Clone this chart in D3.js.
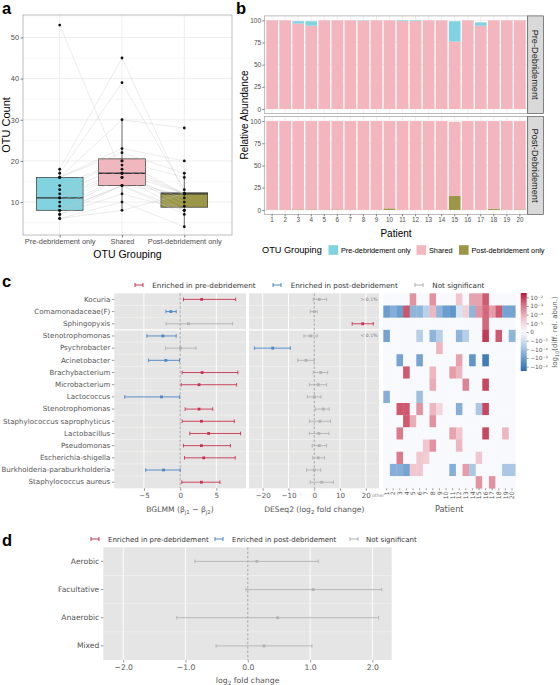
<!DOCTYPE html>
<html><head><meta charset="utf-8">
<script src="https://cdn.jsdelivr.net/npm/d3@7"></script>
<style>body{margin:0;background:#fff}svg{display:block}</style>
</head><body><svg id="c" width="560" height="685"></svg>
<script>
// ================= DATA =================
// Panel a: OTU counts per patient (patient order)
const otuGroups = ["Pre-debridement only", "Shared", "Post-debridement only"];
const otuPre    = [53,18,17,16,16,16,14,13,12,11,11,10,9,8,8,8,7,7,6,6];
const otuShared = [17,45,39,30,23,22,20,20,19,18,17,17,16,16,14,14,14,12,10,8];
const otuPost   = [12,12,13,28,20,17,16,12,12,12,9,10,11,8,12,8,7,8,4,12];
const otuTicks  = [10,20,30,40,50];

// Panel b: relative abundance (%)
const patients = ["1","2","3","4","5","6","7","8","9","10","11","12","13","14","15","16","17","18","19","20"];
const preShared  = [100,100,96.4,94,100,100,100,99.6,100,100,99.2,99.2,100,100,75.9,100,93.9,100,100,100];
const preOnly    = [0,0,2.6,5,0,0,0,0.4,0,0,0.8,0.8,0,0,23.1,0,3.8,0,0,0];
const postOnly   = [0.3,0,0.6,0.6,0,0.6,0,0,0,1.8,0,0,0,0,15.8,0,0,1.5,0,0.6];
const postShared = [99.7,100,99.4,99.4,100,99.4,100,100,100,98.2,100,100,100,100,83.2,100,100,98.5,100,99.4];
const abunTicks  = [0,25,50,75,100];

// Panel c
const taxa = ["Kocuria","Comamonadaceae(F)","Sphingopyxis","Stenotrophomonas","Psychrobacter","Acinetobacter",
  "Brachybacterium","Microbacterium","Lactococcus","Stenotrophomonas","Staphylococcus saprophyticus",
  "Lactobacillus","Pseudomonas","Escherichia-shigella","Burkholderia-paraburkholderia","Staphylococcus aureus"];
const bglmmEst = [2.98,-1.28,1.15,-2.39,0.05,-1.97,3.03,2.61,-2.57,2.61,2.94,3.94,2.94,3.26,-2.29,2.94];
const bglmmLo  = [0.46,-1.97,-1.93,-4.59,-2.02,-4.36,0.28,0.14,-7.66,0.69,0.28,1.33,0.46,0.60,-4.77,0.23];
const bglmmHi  = [7.66,-0.55,7.25,-0.55,2.20,-0.09,7.98,7.80,-0.09,4.50,7.48,8.35,6.95,7.61,0.00,5.50];
const bglmmSig = ["pre","post","ns","post","ns","post","pre","pre","post","pre","pre","pre","pre","pre","post","pre"];
const deseqEst = [1.94,0.00,18.75,-1.40,-16.1,-3.20,2.50,1.55,0.00,3.50,2.20,1.80,1.94,1.55,0.00,2.90];
const deseqLo  = [-0.40,-1.55,14.7,-4.00,-23.2,-6.40,-0.40,-1.90,-2.70,0.40,-1.90,-1.90,-0.80,-0.60,-2.97,-1.55];
const deseqHi  = [4.80,1.16,22.9,1.16,-9.30,0.00,5.20,4.80,2.60,5.80,6.30,5.70,4.80,3.90,2.50,7.40];
const deseqSig = ["ns","ns","pre","ns","post","ns","ns","ns","ns","ns","ns","ns","ns","ns","ns","ns"];
const bglmmTicks = [-5,0,5];
const deseqTicks = [-20,-10,0,10,20];
// heatmap: signed level, |level| = 1..4 -> 1e-5 .. 1e-2 difference in relative abundance
const heatLevels = [
 [0,0,0,0,2.5,0,0,2.5,0,0,0,1.5,0,2.2,2.2,3.5,0,0,0,0],
 [-3,-2.5,-3,3.6,-2.3,-2.3,-1.5,1.8,-2.3,-3,-3.2,-0.8,1.2,-2.3,2.5,3.3,2.3,3.5,-2.8,-2.8],
 [0,0,0,0,0,0,0,0,0,0,0,0,0,0,0,3.3,0,0,0,0],
 [-2.8,0,0,0,0,-1.6,0,-2.3,-1.6,0,0,-2.3,-1.6,0,0,4,0,3.5,0,-2.3],
 [0,0,0,0,0,0,0,0,1.8,0,0,0,0,0,0,0,0,0,0,0],
 [0,0,-2.8,0,0,-2.8,0,0,0,0,0,2.2,0,-3.2,0,-4,0,0,0,0],
 [0,0,0,3.5,0,0,0,1.8,0,0,2.3,1.8,0,0,0,0,0,0,0,0],
 [0,0,0,0,0,0,0,2,0,0,0,0,2.8,0,0,3.8,0,0,0,0],
 [-2.5,0,0,0,0,-2,0,0,0,0,0,0,0,0,0,0,0,0,0,0],
 [0,0,3.5,3.5,0,2.5,0,1.8,1,0,0,-2.5,0,0,-1.8,3.8,0,0,0,0],
 [0,0,0,3.5,2,0,0,2.5,0,0,0,0,0,0,0,0,0,0,0,0],
 [0,0,3,0,0,0,0,0,0,0,2.2,1.5,0,0,0,3.8,0,0,1.8,0],
 [0,0,0,0,0,0,1.5,2.5,0,0,0,1.8,0,0,0,0,0,0,0,0],
 [0,0,3,0,0,1.5,1.3,0,0,0,0,0,0,0,1.5,0,0,0,0,0],
 [0,-2.5,-2.5,-2.8,1.5,1.5,0,0,0,0,-2.5,0,2.3,-1.8,0,0,0,0,-1.8,-1.8],
 [0,0,0,0,0,0,0,0,0,0,0,0,0,0,2.5,0,2.5,0,0,0]
];
const cbarLevels = [4,3,2,1,0,-1,-2,-3,-4];
const cbarLabels = ["10⁻²","10⁻³","10⁻⁴","10⁻⁵","0","−10⁻⁵","−10⁻⁴","−10⁻³","−10⁻²"];

// Panel d
const oxyGroups = ["Aerobic","Facultative","Anaerobic","Mixed"];
const oxyEst = [0.145,1.05,0.48,0.26];
const oxyLo  = [-0.85,-0.03,-1.14,-0.51];
const oxyHi  = [1.13,2.15,2.10,1.03];
const oxySig = ["ns","ns","ns","ns"];
const oxyTicks = [-2,-1,0,1,2];

// ================= STYLE =================
const FA = "'Liberation Sans', Arial, sans-serif";
const FD = "'DejaVu Sans', sans-serif";
const cCyan = "#80D3DF", cPink = "#F4B6BE", cOlive = "#9C9647";
const sigColor = {pre:"#C7344F", post:"#4A87C4", ns:"#B2B2B2"};
const svg = d3.select("#c");

function rich(g, x, y, parts, attrs) {
  const t = g.append("text").attr("x", x).attr("y", y);
  Object.entries(attrs).forEach(([k,v]) => t.attr(k, v));
  const fs = attrs["font-size"];
  let shift = 0;
  parts.forEach(([s, mode]) => {
    const target = mode === "sub" ? fs*0.3 : mode === "sup" ? -fs*0.4 : 0;
    const ts = t.append("tspan").text(s).attr("dy", target - shift);
    if (mode !== "n") ts.attr("font-size", fs*0.72);
    shift = target;
  });
  return t;
}
function styleAxis(sel, font, size, color, tickColor) {
  sel.select(".domain").remove();
  sel.selectAll("text").attr("font-family", font).attr("font-size", size).attr("fill", color);
  sel.selectAll(".tick line").attr("stroke", tickColor).attr("stroke-width", 0.6);
}

// panel letters
[["a",2,14],["b",236,14],["c",2,287],["d",2,546]].forEach(([t,x,y]) =>
  svg.append("text").attr("x",x).attr("y",y).text(t).attr("font-family",FA)
     .attr("font-weight","bold").attr("font-size",16.5).attr("fill","#000"));

// ================= PANEL A =================
(function(){
  const L=23, R=232, T=15, B=235;
  const g = svg.append("g");
  const y = d3.scaleLinear().domain([2.0,55.45]).range([B,T]);
  const x = d3.scalePoint().domain(otuGroups).range([59.7,184.3]);
  const unit = x.step();
  g.append("rect").attr("x",L).attr("y",T).attr("width",R-L).attr("height",B-T).attr("fill","#fff");
  const minor = otuTicks.map(v=>v-5).concat([55]);
  minor.forEach(v=> g.append("line").attr("x1",L).attr("x2",R).attr("y1",y(v)).attr("y2",y(v)).attr("stroke","#F2F2F2").attr("stroke-width",0.5));
  otuTicks.forEach(v=> g.append("line").attr("x1",L).attr("x2",R).attr("y1",y(v)).attr("y2",y(v)).attr("stroke","#EBEBEB").attr("stroke-width",0.9));
  otuGroups.forEach(c=> g.append("line").attr("x1",x(c)).attr("x2",x(c)).attr("y1",T).attr("y2",B).attr("stroke","#EBEBEB").attr("stroke-width",0.9));

  const sets = [otuPre, otuShared, otuPost];
  const fills = [cCyan, cPink, cOlive];
  sets.forEach((arr,i)=>{
    const s = arr.slice().sort(d3.ascending);
    const q1=d3.quantile(s,.25), md=d3.quantile(s,.5), q3=d3.quantile(s,.75), iqr=q3-q1;
    const lo=d3.min(s.filter(v=>v>=q1-1.5*iqr)), hi=d3.max(s.filter(v=>v<=q3+1.5*iqr));
    const cx = x(otuGroups[i]), w = unit*0.75;
    g.append("line").attr("x1",cx).attr("x2",cx).attr("y1",y(hi)).attr("y2",y(q3)).attr("stroke","#333").attr("stroke-width",0.7);
    g.append("line").attr("x1",cx).attr("x2",cx).attr("y1",y(q1)).attr("y2",y(lo)).attr("stroke","#333").attr("stroke-width",0.7);
    g.append("rect").attr("x",cx-w/2).attr("y",y(q3)).attr("width",w).attr("height",y(q1)-y(q3))
      .attr("fill",fills[i]).attr("stroke","#333").attr("stroke-width",0.7);
    g.append("line").attr("x1",cx-w/2).attr("x2",cx+w/2).attr("y1",y(md)).attr("y2",y(md)).attr("stroke","#333").attr("stroke-width",1.3);
  });
  // patient lines
  const line = d3.line().x(d=>d[0]).y(d=>y(d[1]));
  otuPre.forEach((v,i)=>{
    const pts = [[x(otuGroups[0]),v],[x(otuGroups[1]),otuShared[i]],[x(otuGroups[2]),otuPost[i]]];
    g.append("path").attr("d",line(pts)).attr("fill","none").attr("stroke","#C4C4C4").attr("stroke-opacity",0.6).attr("stroke-width",0.55);
  });
  sets.forEach((arr,i)=> arr.forEach(v=> g.append("circle").attr("cx",x(otuGroups[i])).attr("cy",y(v)).attr("r",1.4).attr("fill","#111")));
  g.append("rect").attr("x",L).attr("y",T).attr("width",R-L).attr("height",B-T).attr("fill","none").attr("stroke","#A0A0A0").attr("stroke-width",0.7);
  const ya = g.append("g").attr("transform",`translate(${L},0)`).call(d3.axisLeft(y).tickValues(otuTicks).tickSize(2.5).tickPadding(1.5));
  styleAxis(ya, FA, 7.4, "#4D4D4D", "#333");
  const xa = g.append("g").attr("transform",`translate(0,${B})`).call(d3.axisBottom(x).tickSize(2.5).tickPadding(1.5));
  styleAxis(xa, FA, 7.4, "#4D4D4D", "#333");
  g.append("text").attr("transform","translate(9.5,125) rotate(-90)").attr("text-anchor","middle").text("OTU Count")
    .attr("font-family",FA).attr("font-size",11).attr("fill","#000");
  g.append("text").attr("x",(L+R)/2).attr("y",257.5).attr("text-anchor","middle").text("OTU Grouping")
    .attr("font-family",FA).attr("font-size",10.5).attr("fill","#000");
})();

// ================= PANEL B =================
(function(){
  const L=264.3, R=527.7;
  const g = svg.append("g");
  const x = d3.scaleBand().domain(patients).range([L,R]).paddingInner(0.1).paddingOuter(0.15);
  const facets = [
    {name:"Pre-Debridement", top:15.9, bot:113.4, keys:["shared","pre"], data:{shared:preShared, pre:preOnly}},
    {name:"Post-Debridement", top:116.6, bot:214.4, keys:["post","shared"], data:{post:postOnly, shared:postShared}}
  ];
  const colorOf = {shared:cPink, pre:cCyan, post:cOlive};
  facets.forEach((f,fi)=>{
    const y = d3.scaleLinear().domain([-5,105]).range([f.bot,f.top]);
    g.append("rect").attr("x",L).attr("y",f.top).attr("width",R-L).attr("height",f.bot-f.top).attr("fill","#fff");
    [12.5,37.5,62.5,87.5].forEach(v=> g.append("line").attr("x1",L).attr("x2",R).attr("y1",y(v)).attr("y2",y(v)).attr("stroke","#F2F2F2").attr("stroke-width",0.5));
    abunTicks.forEach(v=> g.append("line").attr("x1",L).attr("x2",R).attr("y1",y(v)).attr("y2",y(v)).attr("stroke","#EBEBEB").attr("stroke-width",0.8));
    patients.forEach(p=> g.append("line").attr("x1",x(p)+x.bandwidth()/2).attr("x2",x(p)+x.bandwidth()/2).attr("y1",f.top).attr("y2",f.bot).attr("stroke","#EBEBEB").attr("stroke-width",0.8));
    const rows = patients.map((p,i)=>{ const o={p}; f.keys.forEach(k=> o[k]=f.data[k][i]); return o; });
    const stacked = d3.stack().keys(f.keys)(rows);
    stacked.forEach(layer=>{
      g.selectAll(null).data(layer).join("rect")
        .attr("x",d=>x(d.data.p)).attr("width",x.bandwidth())
        .attr("y",d=>y(d[1])).attr("height",d=>Math.max(0,y(d[0])-y(d[1])))
        .attr("fill",colorOf[layer.key]);
    });
    g.append("rect").attr("x",L).attr("y",f.top).attr("width",R-L).attr("height",f.bot-f.top).attr("fill","none").attr("stroke","#A0A0A0").attr("stroke-width",0.7);
    const ya = g.append("g").attr("transform",`translate(${L},0)`).call(d3.axisLeft(y).tickValues(abunTicks).tickSize(2).tickPadding(1.2));
    styleAxis(ya, FA, 6.5, "#4D4D4D", "#333");
    // strip
    g.append("rect").attr("x",R).attr("y",f.top).attr("width",15.8).attr("height",f.bot-f.top).attr("fill","#D9D9D9").attr("stroke","#555").attr("stroke-width",0.7);
    g.append("text").attr("transform",`translate(${R+4.5},${(f.top+f.bot)/2}) rotate(90)`).attr("text-anchor","middle")
      .text(f.name).attr("font-family",FA).attr("font-size",9.2).attr("fill","#1A1A1A");
    if (fi===1) {
      const xa = g.append("g").attr("transform",`translate(0,${f.bot})`).call(d3.axisBottom(x).tickSize(2).tickPadding(1.2));
      styleAxis(xa, FA, 6.3, "#4D4D4D", "#333");
    }
  });
  g.append("text").attr("transform","translate(247.5,115) rotate(-90)").attr("text-anchor","middle").text("Relative Abundance")
    .attr("font-family",FA).attr("font-size",10).attr("fill","#000");
  g.append("text").attr("x",(L+R)/2).attr("y",236.5).attr("text-anchor","middle").text("Patient")
    .attr("font-family",FA).attr("font-size",10).attr("fill","#000");
  // legend
  const ly = 250;
  g.append("text").attr("x",262).attr("y",ly+3.2).text("OTU Grouping").attr("font-family",FA).attr("font-size",9.2).attr("fill","#000");
  const items = [[cCyan,"Pre-debridement only",328.5],[cPink,"Shared",416.5],[cOlive,"Post-debridement only",459]];
  items.forEach(([c,t,x0])=>{
    g.append("rect").attr("x",x0).attr("y",ly-4.8).attr("width",9.6).attr("height",9.6).attr("fill",c);
    g.append("text").attr("x",x0+12.5).attr("y",ly+2.6).text(t).attr("font-family",FA).attr("font-size",7.3).attr("fill","#000");
  });
})();

// ================= FOREST helper =================
function errorLegend(g, items, y, fs) {
  items.forEach(([key, label, ix, tx])=>{
    const c = sigColor[key];
    g.append("line").attr("x1",ix).attr("x2",ix+8).attr("y1",y).attr("y2",y).attr("stroke",c).attr("stroke-width",1);
    [ix, ix+8].forEach(xx=> g.append("line").attr("x1",xx).attr("x2",xx).attr("y1",y-2).attr("y2",y+2).attr("stroke",c).attr("stroke-width",1));
    g.append("text").attr("x",tx).attr("y",y+2.6).text(label).attr("font-family",FD).attr("font-size",fs || 7.2).attr("fill","#333");
  });
}
function forest(g, x, y, est, lo, hi, sig, opts) {
  const L = x.range()[0], R = x.range()[1];
  const T = y.range()[0], B = y.range()[1];
  g.append("rect").attr("x",L).attr("y",T).attr("width",R-L).attr("height",B-T).attr("fill","#E5E5E5");
  opts.ticks.forEach(v=>{ if (v!==0) g.append("line").attr("x1",x(v)).attr("x2",x(v)).attr("y1",T).attr("y2",B).attr("stroke","#fff").attr("stroke-width",0.9); });
  y.domain().slice(1).forEach((d)=>{
    const yy = y(d);
    const strong = opts.sep && opts.sep.includes(d);
    g.append("line").attr("x1",L).attr("x2",R).attr("y1",yy).attr("y2",yy)
      .attr("stroke", strong ? "#fff" : "#F4F4EE").attr("stroke-width", strong ? 1.3 : 0.6);
  });
  g.append("line").attr("x1",x(0)).attr("x2",x(0)).attr("y1",T).attr("y2",B).attr("stroke","#9A9A9A").attr("stroke-width",0.8).attr("stroke-dasharray","2.5,1.8");
  const bw = y.bandwidth(), cap = opts.cap || 1.8;
  y.domain().forEach((d,i)=>{
    const c = sigColor[sig[i]], yy = y(d)+bw/2;
    g.append("line").attr("x1",x(lo[i])).attr("x2",x(hi[i])).attr("y1",yy).attr("y2",yy).attr("stroke",c).attr("stroke-width",0.9);
    [lo[i],hi[i]].forEach(v=> g.append("line").attr("x1",x(v)).attr("x2",x(v)).attr("y1",yy-cap).attr("y2",yy+cap).attr("stroke",c).attr("stroke-width",0.9));
    g.append("rect").attr("x",x(est[i])-1.4).attr("y",yy-1.4).attr("width",2.8).attr("height",2.8).attr("fill",c);
  });
  const xa = g.append("g").attr("transform",`translate(0,${B})`).call(d3.axisBottom(x).tickValues(opts.ticks).tickSize(2.5).tickPadding(2));
  styleAxis(xa, FD, opts.fs || 7.1, "#555", "#555");
}

// ================= PANEL C =================
(function(){
  const g = svg.append("g");
  const rowIdx = taxa.map((t,i)=>i);
  const y = d3.scaleBand().domain(rowIdx).range([293.3,488.3]).padding(0);
  errorLegend(g, [["pre","Enriched in pre-debridement",135,152.3],["post","Enriched in post-debridement",273,290.7],["ns","Not significant",415,432.3]], 285);

  const xb = d3.scaleLinear().domain([-9.1,9.1]).range([114.3,246]);
  forest(g, xb, y, bglmmEst, bglmmLo, bglmmHi, bglmmSig, {ticks:bglmmTicks, sep:[3]});
  const ya = g.append("g").attr("transform","translate(114.3,0)").call(d3.axisLeft(y).tickFormat(i=>taxa[i]).tickSize(2.5).tickPadding(1.5));
  styleAxis(ya, FD, 7.1, "#555", "#555");
  rich(g, 180, 511.5, [["BGLMM (","n"],["β","n"],["j1","sub"],[" − β","n"],["j2","sub"],[")","n"]],
       {"font-family":FD,"font-size":7.6,"fill":"#555","text-anchor":"middle"});

  const xd = d3.scaleLinear().domain([-25.3,25.1]).range([249,379]);
  forest(g, xd, y, deseqEst, deseqLo, deseqHi, deseqSig, {ticks:deseqTicks, sep:[3]});
  g.append("text").attr("x",377.5).attr("y",300.5).attr("text-anchor","end").text("> 0.1%").attr("font-family",FD).attr("font-size",4.6).attr("fill","#777");
  g.append("text").attr("x",377.5).attr("y",336.5).attr("text-anchor","end").text("< 0.1%").attr("font-family",FD).attr("font-size",4.6).attr("fill","#777");
  g.append("text").attr("x",372).attr("y",496.5).text("other").attr("font-family",FD).attr("font-size",4.6).attr("fill","#888");
  rich(g, 314.3, 511.5, [["DESeq2 (log","n"],["2","sub"],[" fold change)","n"]],
       {"font-family":FD,"font-size":7.6,"fill":"#555","text-anchor":"middle"});

  // heatmap
  const hx = d3.scaleBand().domain(patients).range([383.3,515.3]);
  const col = d3.scaleLinear().domain([-4.5,-3,-1.5,0,1.5,3,4.5])
    .range(["#2B6CAE","#6B9DCE","#BBD1E9","#F7F9FC","#F1C6CE","#DA7A8B","#B81A3B"]);
  heatLevels.forEach((row,ri)=> row.forEach((v,ci)=>{
    g.append("rect").attr("x",hx(patients[ci])).attr("y",y(ri)).attr("width",hx.bandwidth()+0.3).attr("height",y.bandwidth()+0.3).attr("fill",col(v));
  }));
  const hxa = g.append("g").attr("transform","translate(0,488.3)").call(d3.axisBottom(hx).tickSize(2).tickPadding(1));
  styleAxis(hxa, FD, 6.2, "#555", "#555");
  hxa.selectAll("text").attr("transform","rotate(-90)").attr("text-anchor","end").attr("dy","0.35em").attr("x",-3).attr("y",0);
  g.append("text").attr("x",449.3).attr("y",511.5).attr("text-anchor","middle").text("Patient").attr("font-family",FD).attr("font-size",8.2).attr("fill","#555");

  // colorbar
  const cy = d3.scaleLinear().domain([-4.5,4.5]).range([371,293]);
  const grad = svg.append("defs").append("linearGradient").attr("id","cb").attr("x1",0).attr("x2",0).attr("y1",1).attr("y2",0);
  col.domain().forEach((d)=> grad.append("stop").attr("offset",(d+4.5)/9).attr("stop-color",col(d)));
  g.append("rect").attr("x",520.7).attr("y",293).attr("width",6).attr("height",78).attr("fill","url(#cb)");
  const ca = g.append("g").attr("transform","translate(526.7,0)")
    .call(d3.axisRight(cy).tickValues(cbarLevels).tickFormat((d,i)=>cbarLabels[i]).tickSize(2).tickPadding(1.5));
  styleAxis(ca, FD, 5.8, "#555", "#555");
  rich(g, 0, 0, [["log","n"],["10","sub"],["(diff. rel. abun.)","n"]],
       {"font-family":FD,"font-size":7,"fill":"#555","text-anchor":"middle","transform":"translate(557,332) rotate(-90)"});
})();

// ================= PANEL D =================
(function(){
  const g = svg.append("g");
  errorLegend(g, [["pre","Enriched in pre-debridement",91,108],["post","Enriched in post-debridement",215,232],["ns","Not significant",350,366]], 539, 7.0);
  const x = d3.scaleLinear().domain([-2.32,2.31]).range([103.3,391.7]);
  const y = d3.scaleBand().domain(oxyGroups).range([547.3,660]).padding(0);
  forest(g, x, y, oxyEst, oxyLo, oxyHi, oxySig, {ticks:oxyTicks, cap:1.8, fs:7.6});
  const ya = g.append("g").attr("transform","translate(103.3,0)").call(d3.axisLeft(y).tickSize(2.5).tickPadding(1.5));
  styleAxis(ya, FD, 7.6, "#555", "#555");
  rich(g, 247.7, 682.5, [["log","n"],["2","sub"],[" fold change","n"]],
       {"font-family":FD,"font-size":7.8,"fill":"#555","text-anchor":"middle"});
})();
</script></body></html>
